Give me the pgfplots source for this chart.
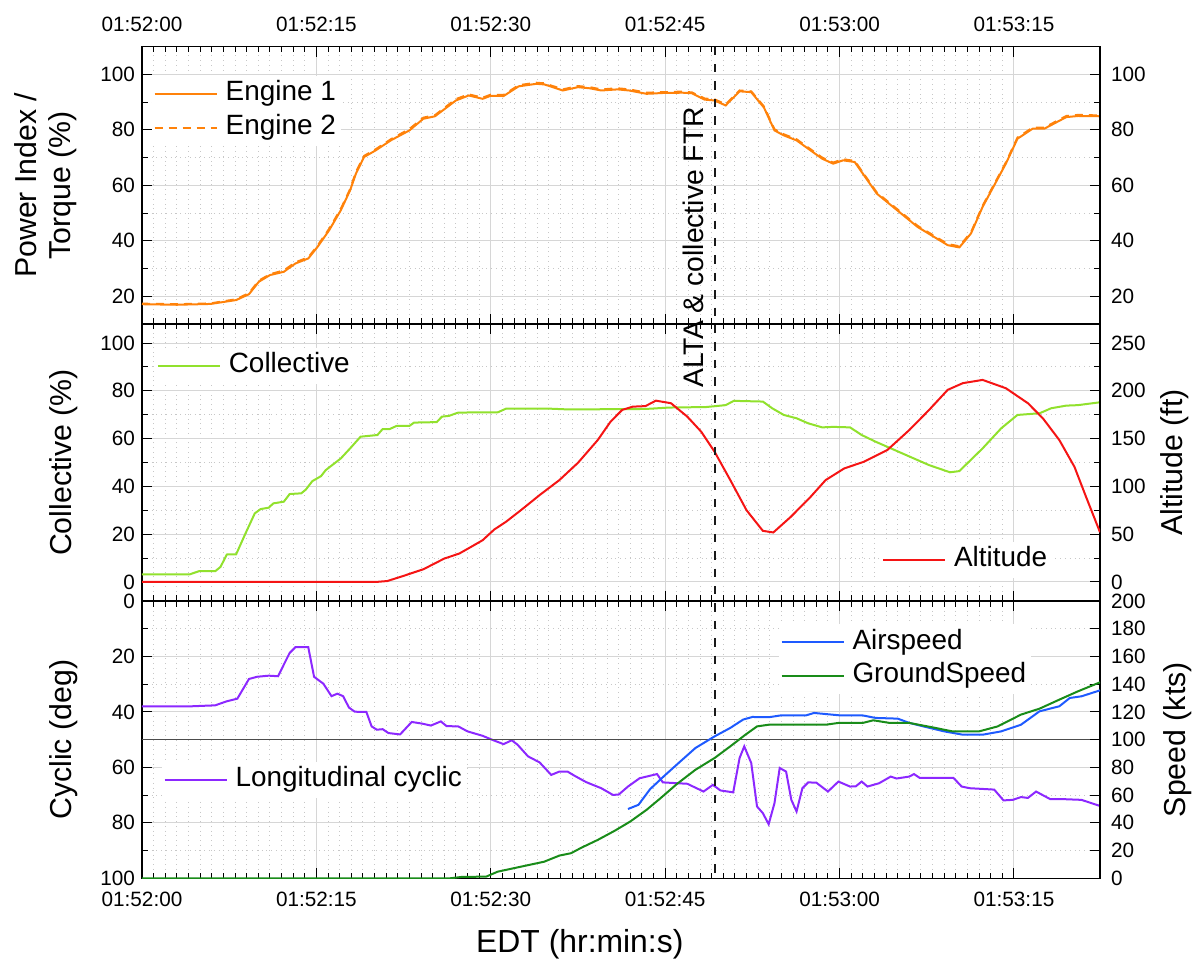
\documentclass[border=0pt]{standalone}
\usepackage{fontspec}
\setmainfont{Liberation Sans}
\usepackage{pgfplots}
\pgfplotsset{compat=1.18}
\definecolor{corange}{RGB}{255,130,10}
\definecolor{cgreenl}{RGB}{145,225,45}
\definecolor{cred}{RGB}{245,20,20}
\definecolor{cblue}{RGB}{30,90,255}
\definecolor{cgreen}{RGB}{25,140,25}
\definecolor{cpurple}{RGB}{140,40,255}
\newcommand\ylabfont{\fontsize{15.2}{17}\selectfont}
\pgfplotsset{
  base/.style={
    width=479bp, height=138.6bp, scale only axis,
    xmin=0, xmax=82.4,
    xtick={0,15,30,45,60,75},
    minor x tick num=14,
    tick align=inside,
    major tick length=5bp, minor tick length=2.8bp,
    every tick/.style={black, line width=0.5bp},
    axis line style={line width=0.75bp},
    tick label style={font=\fontsize{10.4}{12}\selectfont},
    /pgf/number format/assume math mode=true,
    legend style={draw=none, fill=white, font=\fontsize{14}{16}\selectfont,
      inner sep=1bp, row sep=0.8bp,
      nodes={inner sep=1.5bp, text height=10bp, text depth=3bp}},
    legend cell align=left,
    legend image code/.code={\draw[##1] (0bp,0bp) -- (31bp,0bp); \path (33.5bp,0bp);},
    every axis plot/.append style={line width=1bp},
  },
  gridded/.style={
    grid=both,
    major grid style={black!16, line width=0.5bp},
    minor grid style={black!22, dotted, line width=0.5bp},
    ytick pos=left, xtick pos=both,
  },
  twin/.style={
    axis y line*=right, axis x line=none, grid=none,
    yticklabel style={xshift=2bp},
  },
}
\begin{document}
\begin{tikzpicture}
\path[use as bounding box] (-71bp,-40.35bp) rectangle (529bp,439.15bp);

% ---------------- bottom panel: cyclic ----------------
\begin{axis}[base, gridded, at={(0,0)},
  ymin=0, ymax=100, y dir=reverse, ytick={0,20,...,100}, minor y tick num=1,
  xticklabel pos=bottom,
  xticklabels={01:52:00,01:52:15,01:52:30,01:52:45,01:53:00,01:53:15},
  xticklabel style={yshift=-3.5bp},
  xlabel={EDT (hr:min:s)},
  xlabel style={at={(axis description cs:0.457,-0.237)}, anchor=center, font=\fontsize{16}{18}\selectfont},
  ylabel={Cyclic (deg)},
  ylabel style={font=\ylabfont, at={(axis description cs:-0.0814,0.5)}, anchor=center},
  legend style={at={(axis description cs:0.02,0.355)}, anchor=west}]
\addplot[cpurple] coordinates {(0,38) (3.95,38) (6.3,37.6) (7.25,36.2) (8.2,35.2) (9.2,28.1) (9.9,27.3) (10.9,26.9) (11.7,27.1) (12.7,18.7) (13.2,16.6) (14.3,16.6) (14.8,27.3) (15.6,29.8) (16.3,34.3) (16.8,33.4) (17.3,34.3) (17.8,38.4) (18.3,39.9) (19.3,40) (19.75,45.2) (20.2,46.4) (20.7,46.2) (21.2,47.6) (22.2,48.1) (23.2,43.6) (24.1,44.2) (24.85,44.9) (25.7,43.4) (26.2,45.1) (27.2,45.2) (28,47) (29.3,48.6) (30.1,50) (31.1,51.6) (31.8,50.2) (32.3,51.8) (33.2,56) (34.2,58.2) (35.2,62.7) (35.9,61.5) (36.6,61.5) (37.2,63) (38.2,65.3) (39.5,67.5) (40.5,69.9) (41,69.8) (41.8,66.9) (42.8,63.9) (44.3,62.4) (44.8,65.4) (46.9,65.9) (48.3,68.7) (49.1,66.3) (49.75,68.3) (50.85,69) (51.4,56.6) (51.8,52.4) (52.4,58.4) (52.9,74.1) (53.4,76.5) (53.9,80.5) (54.4,72.9) (54.85,60.2) (55.4,61.5) (55.85,71.7) (56.3,75.9) (56.8,67.5) (57.3,65.4) (58,65.5) (59,68.7) (59.9,65.1) (60.9,66.9) (61.4,66.8) (61.9,65.1) (62.4,66.9) (63.4,65.7) (64.4,63.3) (64.9,64) (66,63.3) (66.4,62.4) (66.9,63.8) (69.8,63.8) (70.5,66.9) (71.2,67.5) (73.3,68) (74.1,71.9) (74.9,71.7) (75.6,70.7) (76.2,71) (76.9,68.7) (78.1,71.4) (79,71.4) (80.8,71.7) (82.4,73.9)};
\addlegendentry{Longitudinal cyclic}
\draw[black!70, line width=0.6bp] (axis cs:0,50) -- (axis cs:82.4,50);
\coordinate (vbot) at (axis cs:49.25,100);
\end{axis}

% ---------------- bottom panel: speed ----------------
\begin{axis}[base, twin, at={(0,0)},
  ymin=0, ymax=200, ytick={0,20,...,200},
  ylabel={Speed (kts)},
  ylabel style={font=\ylabfont, at={(axis description cs:1.081,0.5)}, anchor=center},
  legend style={at={(axis description cs:0.664,0.791)}, anchor=west}]
\addplot[cblue] coordinates {(41.8,50) (42.7,53) (43.7,64.3) (45,74.5) (46.3,84.3) (47.6,94) (49.25,102.4) (50.6,108.5) (51.7,114.5) (52.5,116.4) (53.9,116.2) (55,117.6) (57.1,117.5) (57.8,119.3) (60.1,117.5) (62,117.5) (63.1,115.7) (65,115.2) (66,112.1) (67.4,109.2) (69,106) (70.6,103.6) (72.3,103.6) (73.9,106) (75.6,110.8) (77.2,120.5) (78.9,124.1) (79.8,130.1) (80.8,131.3) (82.4,135.6)};
\addlegendentry{Airspeed}
\addplot[cgreen] coordinates {(0,0) (26.5,0) (27.5,1) (29.6,1.2) (30.6,4.8) (32.6,8.4) (34.6,12) (35.9,16.4) (36.9,18.1) (37.8,22.1) (39.2,27.7) (40.7,34.5) (42,41) (43.4,49.4) (44.6,57.8) (46,68) (47.6,78.3) (49.25,86.8) (50.6,95.2) (51.9,103.6) (52.9,109.6) (53.9,110.8) (58.8,110.8) (59.9,112.1) (62,112.1) (62.9,114) (64.3,112.1) (66,112.1) (68,108.9) (69.7,106) (72,106) (73.6,109.6) (75.6,118.1) (77.2,122.4) (78.9,128.9) (80.5,134.9) (82.4,141.4)};
\addlegendentry{GroundSpeed}
\end{axis}

% ---------------- middle panel: collective ----------------
\begin{axis}[base, gridded, at={(0,138.6bp)},
  ymin=-8, ymax=108, ytick={0,20,...,100}, minor y tick num=1,
  xticklabels={},
  ylabel={Collective (\%)},
  ylabel style={font=\ylabfont, at={(axis description cs:-0.0814,0.5)}, anchor=center},
  legend style={at={(axis description cs:0.013,0.8495)}, anchor=west}]
\addplot[cgreenl] coordinates {(0,3.2) (4.1,3.2) (4.9,4.5) (6.3,4.5) (6.75,6.3) (7.3,11.5) (8.1,11.6) (8.9,20.3) (9.7,28.7) (10.2,30.5) (10.9,31.1) (11.3,32.9) (12.2,33.6) (12.7,36.8) (13.7,37.1) (14.1,38.7) (14.65,42.2) (15.4,44.3) (15.8,46.8) (17.1,51.7) (17.9,55.9) (18.8,60.8) (20.25,61.5) (20.7,64) (21.3,64) (21.9,65.3) (23,65.3) (23.4,66.7) (25.35,66.9) (25.8,69.2) (26.4,69.5) (27.2,70.9) (30.6,71) (31.3,72.5) (35.2,72.5) (36.7,72.2) (43.3,72.4) (45.4,73) (48.5,73.2) (50.2,74) (50.9,75.8) (53.4,75.5) (54.2,72.7) (55.2,69.9) (56.3,68.5) (57.3,66.4) (58.5,64.7) (59.45,64.9) (60.9,64.7) (61.9,61.5) (63.1,58.7) (65.4,53.8) (67.7,48.9) (69.5,45.9) (70.3,46.4) (72.3,55.9) (73.9,64.3) (75.3,69.9) (77.2,70.6) (78.2,72.7) (79.5,73.8) (80.5,74) (82.4,75.2)};
\addlegendentry{Collective}
\end{axis}

% ---------------- middle panel: altitude ----------------
\begin{axis}[base, twin, at={(0,138.6bp)},
  ymin=-20, ymax=270, ytick={0,50,...,250}, minor y tick num=1,
  ylabel={Altitude (ft)},
  ylabel style={font=\ylabfont, at={(axis description cs:1.0783,0.5)}, anchor=center},
  legend style={at={(axis description cs:0.770,0.1486)}, anchor=west}]
\addplot[cred] coordinates {(0,0) (20.1,0) (21.1,1) (22.4,6) (24.2,13.3) (26,24.5) (27.3,29.8) (28.3,36.7) (29.3,43.7) (30.3,54.9) (31.3,62.9) (32.6,75.2) (34.2,90.9) (35.9,106.6) (37.5,124.7) (39.2,148.5) (40.3,167.7) (41.3,180) (42.2,183.4) (43.3,184) (44.2,189.7) (45.5,187) (46.9,173) (48.1,157.2) (49.25,136.2) (50.6,106.6) (52,75) (53.4,53.5) (54.3,51.8) (55.8,68.1) (57.5,89) (58.8,106.6) (60.4,118.8) (62.1,125.8) (64.1,138) (66,159) (67.7,180) (69.3,201) (70.6,208) (72.3,211.4) (74.3,202.7) (76.2,187) (77.5,171) (78.9,148.5) (80.2,120.5) (81.2,89) (82.4,52)};
\addlegendentry{Altitude}
\end{axis}

% ---------------- top panel: engines ----------------
\begin{axis}[base, gridded, at={(0,277.2bp)},
  ymin=10, ymax=110, ytick={20,40,...,100}, minor y tick num=1,
  xticklabel pos=top,
  xticklabels={01:52:00,01:52:15,01:52:30,01:52:45,01:53:00,01:53:15},
  xticklabel style={yshift=4.2bp},
  ylabel={Power Index /\\Torque (\%)},
  ylabel style={font=\ylabfont, align=center, at={(axis description cs:-0.1002,0.5)}, anchor=center},
  legend style={at={(axis description cs:0.0097,0.896)}, anchor=north west}]
\addplot[corange] coordinates {(0,17.1) (3,16.9) (5.9,17.2) (8.1,18.6) (9.2,20.7) (10.05,25.2) (11,27.6) (12.2,28.8) (13.2,31.8) (14.3,33.6) (15.1,37.8) (16.1,43.8) (17.1,51) (17.9,58.2) (18.4,64.2) (19.1,70.2) (20.1,72.6) (21.4,76.2) (23,79.8) (24.2,84) (25.2,84.9) (27,90.6) (28.1,92.4) (29.3,91.2) (30,92.3) (31.1,92.2) (32.4,95.7) (33.9,96.6) (34.6,96.4) (36.2,94.2) (37.5,95.4) (38.5,95) (39.5,94.2) (40.9,94.6) (41.9,94.2) (43.4,93) (44.8,93.3) (46.5,93.4) (47.3,93.2) (48.4,90.9) (49.25,90.6) (50.2,88.8) (51.4,93.9) (52.4,93.6) (53.5,88) (54.4,79.8) (55.2,78) (56.3,76.2) (58.5,69.6) (59.45,67.8) (60.3,69) (61.3,68.4) (63.2,57) (66.7,45) (69.3,38.4) (70.3,37.6) (71.3,42.6) (72.3,52.2) (73.3,60) (74.3,67.8) (75.3,76.8) (76.6,80.4) (77.6,80.4) (79.5,84.6) (80.5,85) (82.4,84.9)};
\addlegendentry{Engine 1}
\addplot[corange, dash pattern=on 4bp off 3bp] coordinates {(0,17.3) (3,17.1) (5.9,17.4) (8.1,18.9) (9.2,21.1) (10.05,25.6) (11,27.9) (12.2,29.3) (13.2,32.2) (14.3,34.0) (15.1,38.2) (16.1,44.3) (17.1,51.5) (17.9,58.6) (18.4,64.8) (19.1,70.6) (20.1,73.0) (21.4,76.6) (23,80.3) (24.2,84.4) (25.2,85.3) (27,91.1) (28.1,92.8) (29.3,91.6) (30,92.7) (31.1,92.6) (32.4,96.1) (33.9,97.0) (34.6,96.8) (36.2,94.6) (37.5,95.8) (38.5,95.4) (39.5,94.6) (40.9,95.0) (41.9,94.6) (43.4,93.4) (44.8,93.6) (46.5,93.8) (47.3,93.5) (48.4,91.3) (49.25,91.0) (50.2,89.2) (51.4,94.2) (52.4,93.9) (53.5,88.4) (54.4,80.2) (55.2,78.4) (56.3,76.6) (58.5,70.0) (59.45,68.2) (60.3,69.4) (61.3,68.8) (63.2,57.4) (66.7,45.4) (69.3,38.8) (70.3,38.0) (71.3,43.0) (72.3,52.6) (73.3,60.4) (74.3,68.2) (75.3,77.2) (76.6,80.8) (77.6,80.8) (79.5,85.0) (80.5,85.4) (82.4,85.2)};
\addlegendentry{Engine 2}
\coordinate (vtop) at (axis cs:49.25,110);
\coordinate (ftr) at (axis cs:49.25,37.6);
\end{axis}

% ---------------- top panel: right labels ----------------
\begin{axis}[base, twin, at={(0,277.2bp)},
  ymin=10, ymax=110, ytick={20,40,...,100}, minor y tick num=1]
\end{axis}

\draw[black!90, line width=1.1bp, dash pattern=on 4.2bp off 4.5bp] (vtop) -- (vbot);
\node[rotate=90, anchor=south, inner sep=0pt, font=\fontsize{14.2}{16}\selectfont] at ([xshift=-5bp]ftr) {ALTA \& collective FTR};
\end{tikzpicture}
\end{document}
